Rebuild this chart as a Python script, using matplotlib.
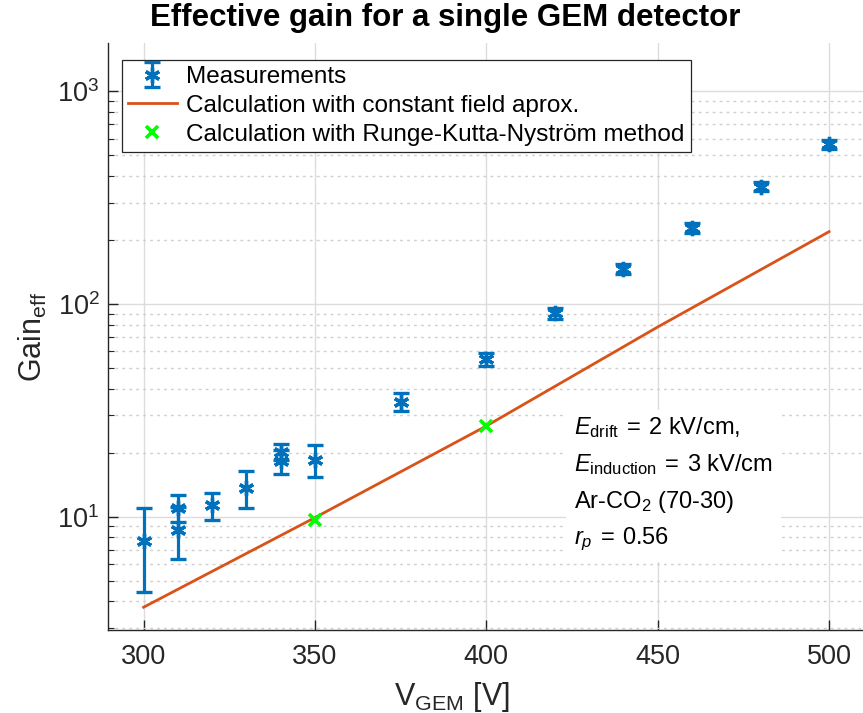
import matplotlib
matplotlib.use('Agg')
import matplotlib.pyplot as plt
import matplotlib.ticker as ticker
import numpy as np

plt.rcParams['font.family'] = ['Liberation Sans', 'DejaVu Sans']
plt.rcParams['mathtext.fontset'] = 'custom'
plt.rcParams['mathtext.rm'] = 'Liberation Sans'
plt.rcParams['mathtext.it'] = 'Liberation Sans:italic'
plt.rcParams['mathtext.bf'] = 'Liberation Sans:bold'

# measured effective gain (two runs at 310 V and 340 V)
v_meas = [300, 310, 310, 320, 330, 340, 340, 350, 375, 400, 420, 440, 460, 480, 500]
gain_meas = [7.7, 11.0, 8.7, 11.3, 13.7, 20.2, 18.2, 18.5, 34.8, 55.0, 90.6, 146, 229, 357, 565]
gain_err = [3.3, 1.6, 2.4, 1.65, 2.7, 1.7, 2.3, 3.15, 3.45, 4.0, 5.3, 8.0, 12, 18, 28]

# constant field approximation
v_calc = [300, 350, 400, 450, 500]
gain_calc = [3.75, 9.9, 26.7, 78, 219]

# Runge-Kutta-Nystrom points
v_rkn = [350, 400]
gain_rkn = [9.6, 26.7]

blue = '#0072BD'
orange = '#D95319'
dark = '#262626'

fig = plt.figure(figsize=(8.63, 7.13), dpi=100)
ax = fig.add_axes([0.1251, 0.1164, 0.8749, 0.8233])

h_meas = ax.errorbar(v_meas, gain_meas, yerr=gain_err, fmt='', marker=(6, 2, 0),
                     linestyle='none', markersize=11, markeredgewidth=2.4, color=blue,
                     ecolor=blue, elinewidth=2.3, capsize=6, capthick=2.3, zorder=4)
h_calc, = ax.plot(v_calc, gain_calc, color=orange, linewidth=2, zorder=3)
h_rkn, = ax.plot(v_rkn, gain_rkn, linestyle='none', marker='x', markersize=8,
                 markeredgewidth=2.6, color='#00FF00', zorder=6)

ax.set_yscale('log')
ax.set_xlim(289.6, 509.9)
ax.set_ylim(2.93, 1690)
ax.xaxis.set_major_locator(ticker.MultipleLocator(50))
ax.yaxis.set_major_locator(ticker.LogLocator(base=10))
ax.yaxis.set_minor_locator(ticker.LogLocator(base=10, subs=np.arange(2, 10)))
ax.yaxis.set_minor_formatter(ticker.NullFormatter())

ax.grid(True, which='major', color='#DCDCDC', linewidth=1, linestyle='-')
ax.grid(True, which='minor', axis='y', color='#CFCFCF', linewidth=1, linestyle=(0, (2, 3)))
ax.set_axisbelow(True)

for side in ['top', 'right']:
    ax.spines[side].set_visible(False)
for side in ['left', 'bottom']:
    ax.spines[side].set_color(dark)
    ax.spines[side].set_linewidth(1)
ax.tick_params(which='both', direction='in', colors=dark, labelsize=19.5)
ax.tick_params(which='major', length=7, width=1, pad=10)
ax.tick_params(which='minor', length=4, width=0.8)
ax.tick_params(axis='y', which='major', pad=6)

ax.set_xlabel(r'V$_{\mathrm{GEM}}$ [V]', fontsize=22, color=dark)
ax.xaxis.set_label_coords(0.456, -0.085)
ax.set_ylabel(r'Gain$_{\mathrm{eff}}$', fontsize=22, color=dark, labelpad=6)
fig.text(445 / 863, 1 - 18 / 713, 'Effective gain for a single GEM detector',
         ha='center', va='center', fontsize=22.5, fontweight='bold', color='black')

leg = ax.legend([h_meas, h_calc, h_rkn],
                ['Measurements', 'Calculation with constant field aprox.',
                 'Calculation with Runge-Kutta-Nyström method'],
                loc='upper left', bbox_to_anchor=(0.0185, 0.971), borderaxespad=0,
                fontsize=17.5, fancybox=False, framealpha=1, edgecolor=dark,
                handlelength=2.0, handletextpad=0.4, labelspacing=0.28,
                borderpad=0.25)
leg.get_frame().set_linewidth(0.9)

ax.text(0.617, 0.366,
        r'$E_{\mathrm{drift}}\:=\:2\ \mathrm{kV/cm,}$' + '\n' +
        r'$E_{\mathrm{induction}}\:=\:3\ \mathrm{kV/cm}$' + '\n' +
        r'Ar-CO$_2$ (70-30)' + '\n' +
        r'$r_p\:=\:0.56$',
        transform=ax.transAxes, ha='left', va='top', fontsize=17,
        color='black', linespacing=1.62, zorder=2,
        bbox=dict(facecolor='white', edgecolor='none', pad=6))

plt.savefig('out.png', dpi=100)
